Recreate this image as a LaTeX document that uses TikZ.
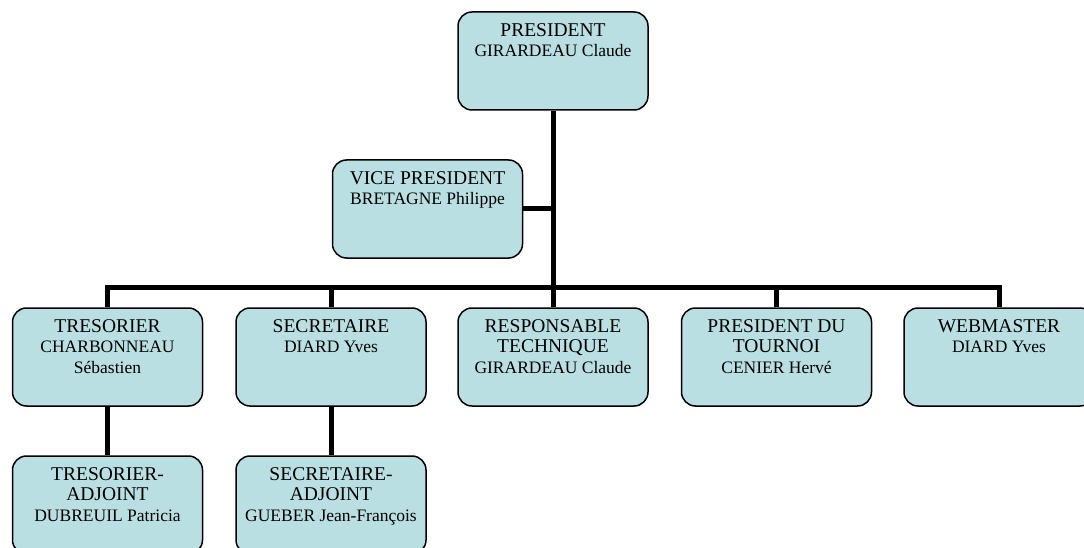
\documentclass[tikz,border=0pt]{standalone}
\usepackage{fontspec}
\setmainfont{Liberation Serif}
\definecolor{boxfill}{RGB}{185,223,227}
\newcommand{\ttlfont}{\fontsize{19.5}{20.5}\selectfont}
\newcommand{\nmfont}{\fontsize{17.5}{20.5}\selectfont}
\newcommand{\boxtext}[2]{\parbox{186pt}{\centering\ttlfont\rule{0pt}{25pt}#1\\\nmfont #2\par}}
\tikzset{
  orgbox/.style={draw=black, line width=1.5pt, fill=boxfill, rounded corners=14pt,
    minimum width=190pt, minimum height=98pt, inner sep=0pt},
  orgtxt/.style={anchor=north, inner sep=0pt, text=black},
  conn/.style={line width=5pt, draw=black, line join=miter}
}
\begin{document}
\begin{tikzpicture}[x=1pt,y=-1pt]
\useasboundingbox (0,0) rectangle (1084,548);
\clip (0,0) rectangle (1084,548);
% boxes
\node[orgbox] (pres) at (553,61) {};
\node[orgbox] (vp) at (427.5,209) {};
\node[orgbox] (tres) at (107.5,357) {};
\node[orgbox] (sec) at (331,357) {};
\node[orgbox] (resp) at (553,357) {};
\node[orgbox] (tour) at (776.5,357) {};
\node[orgbox] (web) at (999,357) {};
\node[orgbox] (tresadj) at (107.5,505) {};
\node[orgbox] (secadj) at (331,505) {};
% junctions
\coordinate (junc) at (553,287);
\coordinate (vpj) at (553,209);
% connectors
\draw[conn] (pres.south) -- (junc) -- (resp.north);
\draw[conn] (vp.east) -- (vpj);
\draw[conn] (tres.north) |- (junc) -| (web.north);
\draw[conn] (sec.north) -- (sec.north |- junc);
\draw[conn] (tour.north) -- (tour.north |- junc);
\draw[conn] (tres.south) -- (tresadj.north);
\draw[conn] (sec.south) -- (secadj.north);
% texts
\node[orgtxt] (presT) at (pres.north) {\boxtext{PRESIDENT}{GIRARDEAU Claude}};
\node[orgtxt] (vpT) at (vp.north) {\boxtext{VICE PRESIDENT}{BRETAGNE Philippe}};
\node[orgtxt] (tresT) at (tres.north) {\boxtext{TRESORIER}{CHARBONNEAU\\Sébastien}};
\node[orgtxt] (secT) at (sec.north) {\boxtext{SECRETAIRE}{DIARD Yves}};
\node[orgtxt] (respT) at (resp.north) {\boxtext{RESPONSABLE\\TECHNIQUE}{GIRARDEAU Claude}};
\node[orgtxt] (tourT) at (tour.north) {\boxtext{PRESIDENT DU\\TOURNOI}{CENIER Hervé}};
\node[orgtxt] (webT) at (web.north) {\boxtext{WEBMASTER}{DIARD Yves}};
\node[orgtxt] (tresadjT) at (tresadj.north) {\boxtext{TRESORIER-\\ADJOINT}{DUBREUIL Patricia}};
\node[orgtxt] (secadjT) at (secadj.north) {\boxtext{SECRETAIRE-\\ADJOINT}{GUEBER Jean-François}};
\end{tikzpicture}
\end{document}
